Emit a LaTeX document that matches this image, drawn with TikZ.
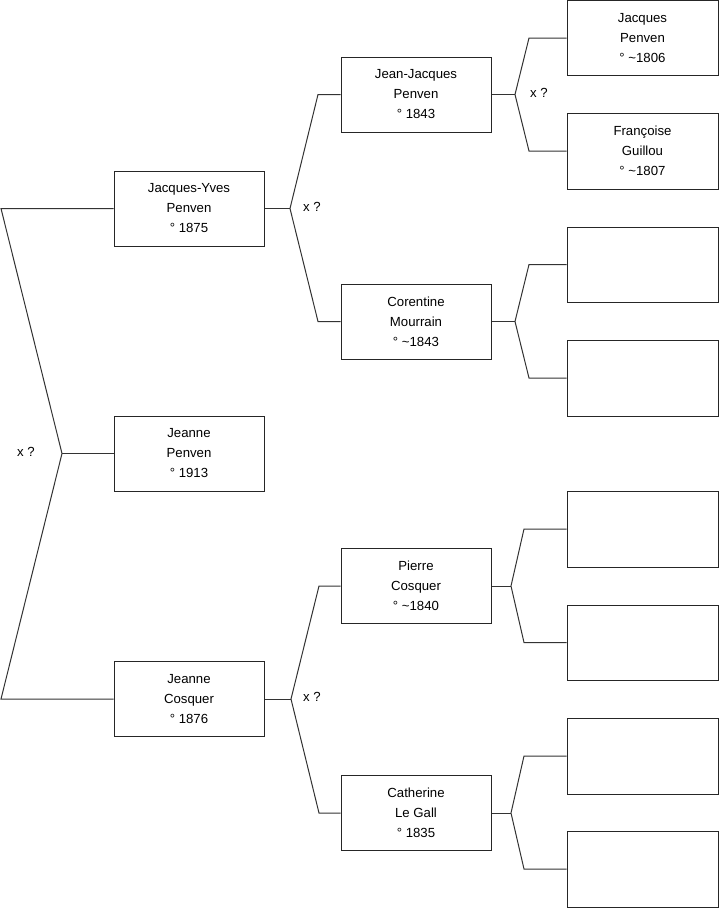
\documentclass[tikz,border=0pt]{standalone}
\usepackage{fontspec}
\setmainfont{Liberation Sans}
\begin{document}
\begin{tikzpicture}[x=1pt,y=-1pt,
  person/.style={draw=black!85, line width=1pt, minimum width=150pt, minimum height=75pt, inner sep=0pt, align=center, font=\fontsize{13.2}{20}\selectfont},
  link/.style={draw=black!80, line width=1pt},
  marr/.style={font=\fontsize{13.2}{15}\selectfont, inner sep=0pt}]
\useasboundingbox (0,0) rectangle (719,908);
% left column
\node[person] (jy) at (189,208.5) {Jacques-Yves\\Penven\\° 1875};
\node[person] (jp) at (189,453.5) {Jeanne\\Penven\\° 1913};
\node[person] (jc) at (189,699) {Jeanne\\Cosquer\\° 1876};
% middle column
\node[person] (jj) at (416,94.5) {Jean-Jacques\\Penven\\° 1843};
\node[person] (cm) at (416,321.5) {Corentine\\Mourrain\\° \textasciitilde1843};
\node[person] (pc) at (416,586) {Pierre\\Cosquer\\° \textasciitilde1840};
\node[person] (cg) at (416,813) {Catherine\\Le Gall\\° 1835};
% right column
\node[person, minimum width=151pt, minimum height=75pt] (jq) at (642.5,38) {Jacques\\Penven\\° \textasciitilde1806};
\node[person, minimum width=151pt, minimum height=76pt] (fg) at (642.5,151) {Françoise\\Guillou\\° \textasciitilde1807};
\node[person, minimum width=151pt] (e1) at (642.5,264.5) {};
\node[person, minimum width=151pt, minimum height=76pt] (e2) at (642.5,378) {};
\node[person, minimum width=151pt, minimum height=76pt] (e3) at (642.5,529) {};
\node[person, minimum width=151pt] (e4) at (642.5,642.5) {};
\node[person, minimum width=151pt, minimum height=76pt] (e5) at (642.5,756) {};
\node[person, minimum width=151pt, minimum height=76pt] (e6) at (642.5,869) {};
% root bracket
\coordinate (r0) at (62,453.5);
\coordinate (ra) at (1,208.5);
\coordinate (rb) at (1,699);
\draw[link] (jy.west) -- (ra) -- (r0) -- (rb) -- (jc.west);
\draw[link] (r0) -- (jp.west);
\node[marr] (x0) at (26,452) {x ?};
% Jacques-Yves parents
\coordinate (v1) at (290,208.5);
\coordinate (v1a) at (318,94.5);
\coordinate (v1b) at (318,321.5);
\draw[link] (jy.east) -- (v1);
\draw[link] (jj.west) -- (v1a) -- (v1) -- (v1b) -- (cm.west);
\node[marr] (x1) at (312,207) {x ?};
% Jeanne Cosquer parents
\coordinate (v2) at (291,699);
\coordinate (v2a) at (319,586);
\coordinate (v2b) at (319,813);
\draw[link] (jc.east) -- (v2);
\draw[link] (pc.west) -- (v2a) -- (v2) -- (v2b) -- (cg.west);
\node[marr] (x2) at (312,697) {x ?};
% Jean-Jacques parents
\coordinate (v3) at (515,94.5);
\coordinate (v3a) at (529,38);
\coordinate (v3b) at (529,151);
\draw[link] (jj.east) -- (v3);
\draw[link] (jq.west) -- (v3a) -- (v3) -- (v3b) -- (fg.west);
\node[marr] (x3) at (539,93) {x ?};
% Corentine parents
\coordinate (v4) at (515,321.5);
\coordinate (v4a) at (529,264.5);
\coordinate (v4b) at (529,378);
\draw[link] (cm.east) -- (v4);
\draw[link] (e1.west) -- (v4a) -- (v4) -- (v4b) -- (e2.west);
% Pierre parents
\coordinate (v5) at (511,586);
\coordinate (v5a) at (524,529);
\coordinate (v5b) at (524,642.5);
\draw[link] (pc.east) -- (v5);
\draw[link] (e3.west) -- (v5a) -- (v5) -- (v5b) -- (e4.west);
% Catherine parents
\coordinate (v6) at (511,813);
\coordinate (v6a) at (524,756);
\coordinate (v6b) at (524,869);
\draw[link] (cg.east) -- (v6);
\draw[link] (e5.west) -- (v6a) -- (v6) -- (v6b) -- (e6.west);
\end{tikzpicture}
\end{document}
